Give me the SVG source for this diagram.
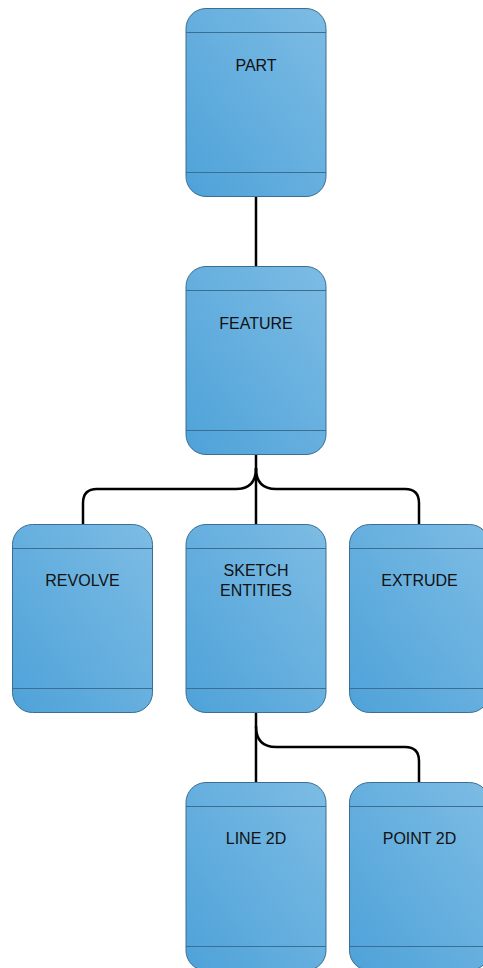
<svg xmlns="http://www.w3.org/2000/svg" width="483" height="968" viewBox="0 0 483 968">
<defs>
<linearGradient id="g" x1="0" y1="1" x2="1" y2="0">
<stop offset="0" stop-color="#4EA2D9"/>
<stop offset="1" stop-color="#7DBCE4"/>
</linearGradient>
<style>
.box{fill:url(#g);stroke:#3B6E92;stroke-width:1}
.div{stroke:#3B6E92;stroke-width:1}
.t{font-family:"Liberation Sans",Arial,sans-serif;font-size:16px;fill:#111;text-anchor:middle}
.c{fill:none;stroke:#000;stroke-width:2.5}
</style>
</defs>
<g id="connectors">
<path class="c" d="M256,196 V266"/>
<path class="c" d="M256,454 V524"/>
<path class="c" d="M256,468 Q256,489 236,489 H97 Q83,489 83,503 V524"/>
<path class="c" d="M256,468 Q256,489 276,489 H405 Q419,489 419,503 V524"/>
<path class="c" d="M256,712 V782"/>
<path class="c" d="M256,726 Q256,747 276,747 H405 Q419,747 419,761 V782"/>
</g>
<g id="part">
<rect class="box" x="186" y="8.5" width="140" height="188" rx="20"/>
<line class="div" x1="186" y1="32.5" x2="326" y2="32.5"/>
<line class="div" x1="186" y1="172.5" x2="326" y2="172.5"/>
<text class="t" x="256" y="71">PART</text>
</g>
<g id="feature">
<rect class="box" x="186" y="266.5" width="140" height="188" rx="20"/>
<line class="div" x1="186" y1="290.5" x2="326" y2="290.5"/>
<line class="div" x1="186" y1="430.5" x2="326" y2="430.5"/>
<text class="t" x="256" y="329">FEATURE</text>
</g>
<g id="revolve">
<rect class="box" x="12.5" y="524.5" width="140" height="188" rx="20"/>
<line class="div" x1="12.5" y1="548.5" x2="152.5" y2="548.5"/>
<line class="div" x1="12.5" y1="688.5" x2="152.5" y2="688.5"/>
<text class="t" x="82.5" y="586">REVOLVE</text>
</g>
<g id="sketch">
<rect class="box" x="186" y="524.5" width="140" height="188" rx="20"/>
<line class="div" x1="186" y1="548.5" x2="326" y2="548.5"/>
<line class="div" x1="186" y1="688.5" x2="326" y2="688.5"/>
<text class="t" x="256" y="576">SKETCH</text>
<text class="t" x="256" y="596">ENTITIES</text>
</g>
<g id="extrude">
<rect class="box" x="349.5" y="524.5" width="140" height="188" rx="20"/>
<line class="div" x1="349.5" y1="548.5" x2="489.5" y2="548.5"/>
<line class="div" x1="349.5" y1="688.5" x2="489.5" y2="688.5"/>
<text class="t" x="419.5" y="586">EXTRUDE</text>
</g>
<g id="line2d">
<rect class="box" x="186" y="782.5" width="140" height="188" rx="20"/>
<line class="div" x1="186" y1="806.5" x2="326" y2="806.5"/>
<line class="div" x1="186" y1="946.5" x2="326" y2="946.5"/>
<text class="t" x="256" y="844">LINE 2D</text>
</g>
<g id="point2d">
<rect class="box" x="349.5" y="782.5" width="140" height="188" rx="20"/>
<line class="div" x1="349.5" y1="806.5" x2="489.5" y2="806.5"/>
<line class="div" x1="349.5" y1="946.5" x2="489.5" y2="946.5"/>
<text class="t" x="419.5" y="844">POINT 2D</text>
</g>
</svg>
